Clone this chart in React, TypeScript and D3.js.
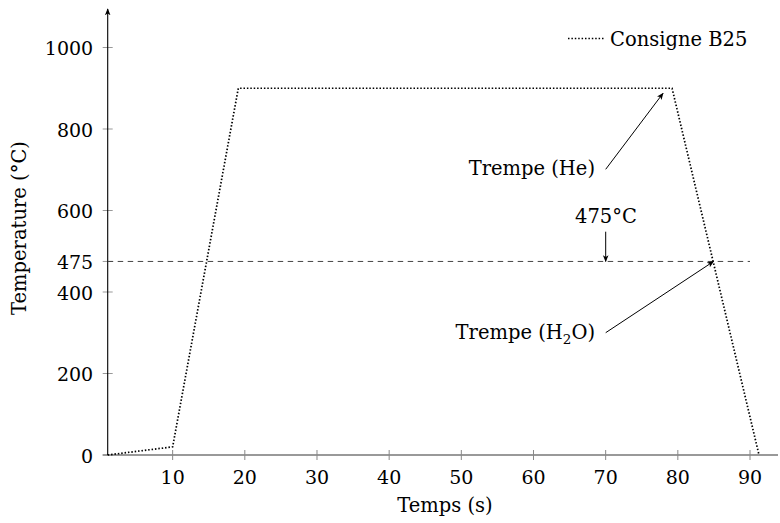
import React from "react";
import * as d3 from "d3";

const timeValues = [1, 10, 19.1, 79.2, 91.25];
const tempValues = [0, 20, 900, 900, 0];
const xTicks = [10, 20, 30, 40, 50, 60, 70, 80, 90];
const yTicks = [0, 200, 400, 475, 600, 800, 1000];
const threshold = 475;
const seriesName = "Consigne B25";

const W = 780;
const H = 523;
const FONT = "'DejaVu Serif', serif";
const FS = 19.5;
const TFS = 19;

export default function App() {
  const x = d3.scaleLinear().domain([1, 90]).range([107.7, 750]);
  const y = d3.scaleLinear().domain([0, 1000]).range([455, 47.5]);
  const pts = timeValues.map((t, i) => [t, tempValues[i]] as [number, number]);
  const line = d3.line<[number, number]>().x((d) => x(d[0])).y((d) => y(d[1]));
  const x0 = x(1);
  const y0 = y(0);
  const heArrowEnd = [x(79.2) - 9, y(900) + 5];
  const h2oEnd = [x(84.95), y(threshold)];
  return (
    <svg width={W} height={H} style={{ position: "absolute", left: 0, top: 0 }} fontFamily={FONT}>
      <defs>
        <marker id="arr" viewBox="0 0 10 10" refX="9" refY="5" markerWidth="7" markerHeight="7" orient="auto-start-reverse" markerUnits="userSpaceOnUse">
          <path d="M0,1 L10,5 L0,9 L2.5,5 Z" fill="#000" />
        </marker>
      </defs>
      {/* x axis */}
      <line x1={x0 - 5} x2={778} y1={y0} y2={y0} stroke="#777" strokeWidth={1.6} />
      {xTicks.map((t) => (
        <g key={t}>
          <line x1={x(t)} x2={x(t)} y1={y0 - 5} y2={y0 + 5} stroke="#888" strokeWidth={1} />
          <text x={x(t)} y={y0 + 28.5} textAnchor="middle" fontSize={TFS}>{t}</text>
        </g>
      ))}
      {/* y axis */}
      {yTicks.map((t) => (
        <g key={t}>
          <line x1={x0 - 5} x2={x0 + 5} y1={y(t)} y2={y(t)} stroke="#999" strokeWidth={1} />
          <text x={x0 - 14.5} y={y(t) + 7.5} textAnchor="end" fontSize={TFS}>{t}</text>
        </g>
      ))}
      <line x1={x0} x2={x0} y1={y0} y2={9} stroke="#000" strokeWidth={1.1} markerEnd="url(#arr)" />
      {/* threshold */}
      <line x1={x0} x2={x(90)} y1={y(threshold)} y2={y(threshold)} stroke="#444" strokeWidth={1} strokeDasharray="5.5 4.5" />
      {/* series */}
      <path d={line(pts) || ""} fill="none" stroke="#000" strokeWidth={1.7} strokeDasharray="1.5 1.9" />
      {/* annotations */}
      <text x={595} y={175} textAnchor="end" fontSize={FS}>Trempe (He)</text>
      <line x1={605.7} y1={169.3} x2={heArrowEnd[0]} y2={heArrowEnd[1]} stroke="#000" strokeWidth={1} markerEnd="url(#arr)" />
      <text x={606} y={223} textAnchor="middle" fontSize={FS}>{threshold}°C</text>
      <line x1={605.7} y1={231.7} x2={605.7} y2={y(threshold)} stroke="#000" strokeWidth={1} markerEnd="url(#arr)" />
      <text x={595} y={339} textAnchor="end" fontSize={FS}>Trempe (H<tspan fontSize={13.5} dy={4.5}>2</tspan><tspan dy={-4.5}>O)</tspan></text>
      <line x1={605.7} y1={332.7} x2={h2oEnd[0]} y2={h2oEnd[1]} stroke="#000" strokeWidth={1} markerEnd="url(#arr)" />
      {/* legend */}
      <line x1={568} x2={605} y1={38.5} y2={38.5} stroke="#000" strokeWidth={1.7} strokeDasharray="1.5 1.9" />
      <text x={610} y={46} fontSize={FS}>{seriesName}</text>
      {/* axis labels */}
      <text x={445} y={512} textAnchor="middle" fontSize={FS}>Temps (s)</text>
      <text transform={`translate(26, 228) rotate(-90)`} textAnchor="middle" fontSize={FS}>Temperature (°C)</text>
    </svg>
  );
}
